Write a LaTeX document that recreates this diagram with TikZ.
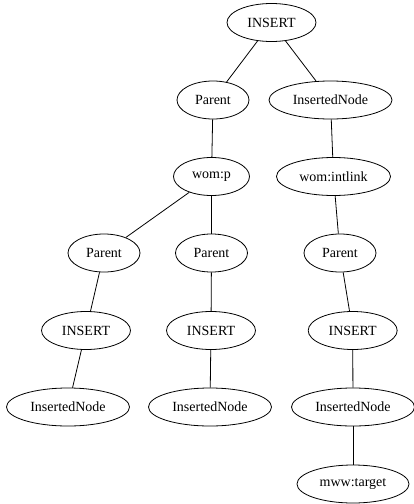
\documentclass[tikz,border=0pt]{standalone}
\usepackage{fontspec}
\setmainfont{Liberation Serif}
\usetikzlibrary{shapes.geometric}
\begin{document}
\begin{tikzpicture}[x=1pt,y=-1pt,
  gnode/.style={draw, ellipse, inner sep=0pt, minimum height=38pt, line width=0.8pt, font=\fontsize{14pt}{16pt}\selectfont},
  edge/.style={line width=0.8pt}]
\useasboundingbox (0,0) rectangle (414,504);
\node[gnode, minimum width=89pt] (root) at (271.5,22.5) {INSERT};
\node[gnode, minimum width=72pt] (p1) at (213,100) {Parent};
\node[gnode, minimum width=123pt] (in1) at (330.5,100) {InsertedNode};
\node[gnode, minimum width=76pt] (womp) at (211.5,176.5) {wom:p};
\node[gnode, minimum width=114pt] (womi) at (333.5,176.5) {wom:intlink};
\node[gnode, minimum width=72pt] (pa) at (104,253) {Parent};
\node[gnode, minimum width=72pt] (pb) at (211.5,253) {Parent};
\node[gnode, minimum width=72pt] (pc) at (340,253) {Parent};
\node[gnode, minimum width=89pt] (ia) at (86,330.5) {INSERT};
\node[gnode, minimum width=89pt] (ib) at (211,330.5) {INSERT};
\node[gnode, minimum width=89pt] (ic) at (352.7,330.5) {INSERT};
\node[gnode, minimum width=123pt] (na) at (68,407) {InsertedNode};
\node[gnode, minimum width=123pt] (nb) at (210,407) {InsertedNode};
\node[gnode, minimum width=123pt] (nc) at (353,407) {InsertedNode};
\node[gnode, minimum width=112pt] (mt) at (353,484) {mww:target};
\draw[edge] (root) -- (p1);
\draw[edge] (root) -- (in1);
\draw[edge] (p1) -- (womp);
\draw[edge] (in1) -- (womi);
\draw[edge] (womp) -- (pa);
\draw[edge] (womp) -- (pb);
\draw[edge] (womi) -- (pc);
\draw[edge] (pa) -- (ia);
\draw[edge] (pb) -- (ib);
\draw[edge] (pc) -- (ic);
\draw[edge] (ia) -- (na);
\draw[edge] (ib) -- (nb);
\draw[edge] (ic) -- (nc);
\draw[edge] (nc) -- (mt);
\end{tikzpicture}
\end{document}
